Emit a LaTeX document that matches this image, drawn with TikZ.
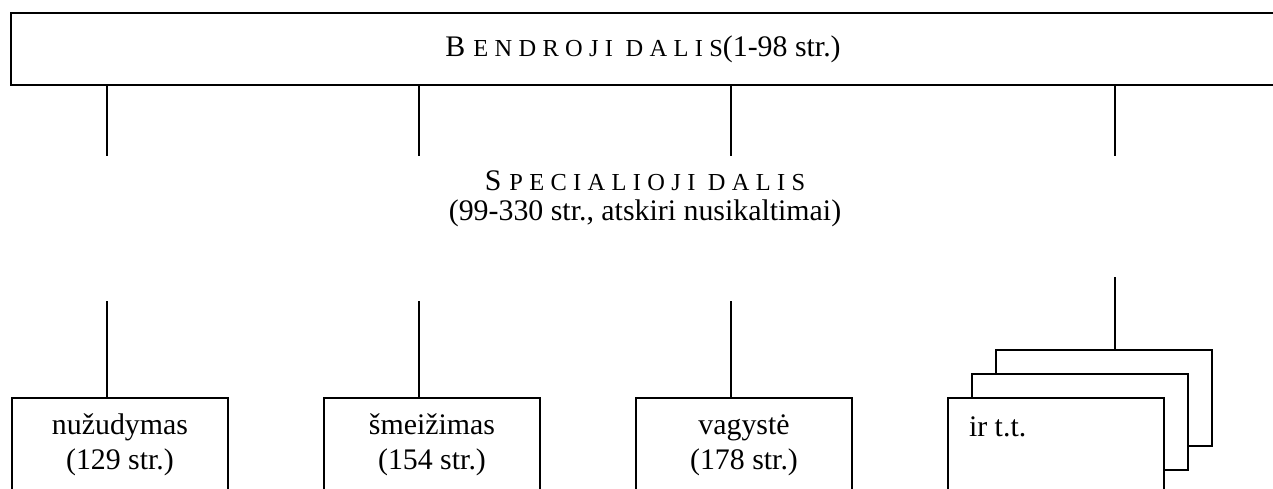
\documentclass[tikz,border=0pt]{standalone}
\usepackage{fontspec}
\setmainfont{Liberation Serif}
\newfontfamily\capsfont[LetterSpace=26]{Liberation Serif}
\newcommand\spacedcaps[2]{#1\kern0.16cm{\capsfont\fontsize{13.9}{15}\selectfont #2}}

\begin{document}
\begin{tikzpicture}[x=0.02cm,y=-0.02cm,line width=0.04cm,
  every node/.style={font=\fontsize{17}{20}\selectfont},
  partbox/.style={draw,rectangle,minimum width=25.28cm,minimum height=1.44cm,inner sep=0pt},
  crime/.style={draw,fill=white,rectangle,anchor=north west,align=center,
    minimum width=4.32cm,minimum height=1.88cm,font=\fontsize{17}{19.9}\selectfont},
  pagebox/.style={draw,fill=white,rectangle,anchor=north west,inner sep=0pt,
    minimum width=4.32cm,minimum height=1.92cm}]
\useasboundingbox (0,0) rectangle (1273,488);
\clip (0,0) rectangle (1273,488);
\node[partbox](bendroji) at (643,49) {\spacedcaps{B}{ENDROJI DALIS}(1-98 str.)};
\node[align=center,font=\fontsize{17}{17}\selectfont](specialioji) at (645,199)
  {\spacedcaps{S}{PECIALIOJI DALIS}\\(99-330 str., atskiri nusikaltimai)};

\coordinate (b1) at (107,156);
\coordinate (b2) at (419,156);
\coordinate (b3) at (731,156);
\coordinate (b4) at (1115,156);
\draw (bendroji.south -| b1) -- (b1);
\draw (bendroji.south -| b2) -- (b2);
\draw (bendroji.south -| b3) -- (b3);
\draw (bendroji.south -| b4) -- (b4);

\node[crime](nuzudymas) at (11,397) {nužudymas\\(129 str.)};
\node[crime](smeizimas) at (323,397) {šmeižimas\\(154 str.)};
\node[crime](vagyste) at (635,397) {vagystė\\(178 str.)};
\node[pagebox](irtt3) at (995,349) {};
\node[pagebox](irtt2) at (971,373) {};
\node[pagebox,text width=3.48cm,align=flush left,inner xsep=0.42cm,inner ysep=0.26cm,
  text height=0.5cm,text depth=1.5cm](irtt) at (947,397) {ir t.t.};

\coordinate (s1) at (107,301);
\coordinate (s2) at (419,301);
\coordinate (s3) at (731,301);
\coordinate (s4) at (1115,277);
\draw (s1) -- (s1 |- nuzudymas.north);
\draw (s2) -- (s2 |- smeizimas.north);
\draw (s3) -- (s3 |- vagyste.north);
\draw (s4) -- (s4 |- irtt3.north);
\end{tikzpicture}
\end{document}
